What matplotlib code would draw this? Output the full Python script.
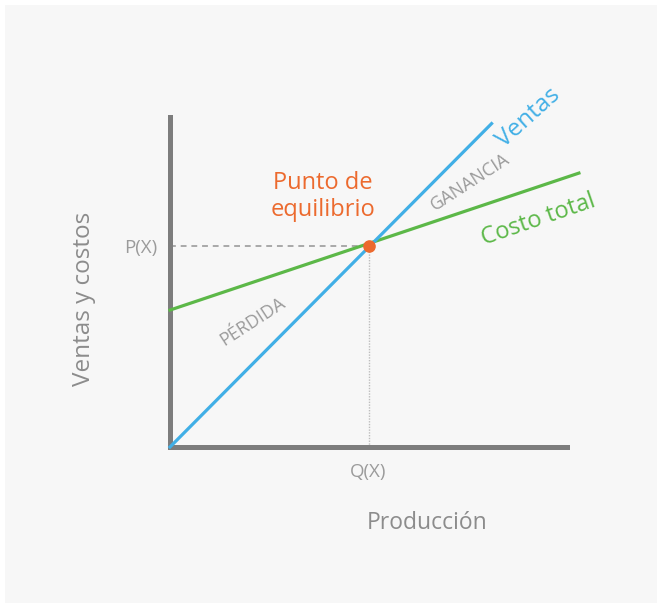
import numpy as np
import matplotlib
matplotlib.use("Agg")
import matplotlib.pyplot as plt
import matplotlib.patches as mpatches

plt.rcParams['font.family'] = ['Open Sans', 'DejaVu Sans']

# data (arbitrary units)
produccion = [0, 81]           # Ventas line x
ventas = [0, 98]               # Ventas line y
prod_costo = [0, 103]          # Costo total line x
costo_total = [41.5, 83]       # Costo total line y
q_eq = 50                      # Q(X)
p_eq = 61                      # P(X)

blue = '#41afe6'
green = '#5cb848'
orange = '#ec6a2e'
gray_txt = '#9b9b9b'
axis_gray = '#7d7d7d'

W, H = 657, 603
fig = plt.figure(figsize=(W / 100, H / 100), dpi=100)
fig.patch.set_facecolor('white')
bg = mpatches.Rectangle((5 / W, 0), 1, 1 - 5 / H, transform=fig.transFigure,
                        facecolor='#f7f7f7', edgecolor='none', zorder=-10)
fig.patches.append(bg)

ax = fig.add_axes([170 / W, 156 / H, 397 / W, 330 / H])
ax.set_zorder(1)
ax.set_facecolor('none')
ax.set_xlim(0, 100)
ax.set_ylim(0, 100)

for s in ['top', 'right']:
    ax.spines[s].set_visible(False)
for s in ['left', 'bottom']:
    ax.spines[s].set_color(axis_gray)
    ax.spines[s].set_linewidth(3.6)
    ax.spines[s].set_capstyle('projecting')

# guide lines to the break-even point
ax.plot([0, q_eq], [p_eq, p_eq], color='#a8a8a8', lw=1.4, ls=(0, (3, 2.5)), zorder=2)
ax.plot([q_eq, q_eq], [0, p_eq], color='#bdbdbd', lw=1.0, ls=(0, (1, 1)), zorder=2)

ax.plot(prod_costo, costo_total, color=green, lw=2.3, clip_on=False, zorder=3)
ax.plot(produccion, ventas, color=blue, lw=2.3, clip_on=False, zorder=3)
ax.scatter([q_eq], [p_eq], s=65, color=orange, zorder=5, clip_on=False)

ax.set_xticks([q_eq])
ax.set_xticklabels(['Q(X)'])
ax.set_yticks([p_eq])
ax.set_yticklabels(['P(X)'])
ax.tick_params(length=0, labelsize=13.5, labelcolor=gray_txt)
ax.tick_params(axis='x', pad=11.5)
ax.tick_params(axis='y', pad=9)

ax.set_ylabel('Ventas y costos', fontsize=17.5, color='#8c8c8c', fontweight=500)
ax.yaxis.set_label_coords(-0.187, 0.45)
ax.set_xlabel('Producción', fontsize=16.5, color='#8c8c8c', fontweight=500)
ax.xaxis.label.set_va('center')
ax.xaxis.set_label_coords(0.647, -0.23)

ax.text(90.2, 99.7, 'Ventas', color=blue, fontsize=17.5, rotation=42, fontweight=500,
        ha='center', va='center', rotation_mode='anchor', clip_on=False)
ax.text(92.7, 68.8, 'Costo total', color=green, fontsize=17, rotation=19, fontweight=500,
        ha='center', va='center', rotation_mode='anchor', clip_on=False)
ax.text(38.5, 76, 'Punto de\nequilibrio', color=orange, fontsize=17, fontweight=500,
        ha='center', va='center', linespacing=1.15)
ax.text(75.6, 80.3, 'GANANCIA', color=gray_txt, fontsize=13, rotation=33,
        ha='center', va='center', rotation_mode='anchor')
ax.text(20.7, 37.9, 'PÉRDIDA', color=gray_txt, fontsize=13, rotation=33,
        ha='center', va='center', rotation_mode='anchor')

fig.savefig('out.png', dpi=100)
